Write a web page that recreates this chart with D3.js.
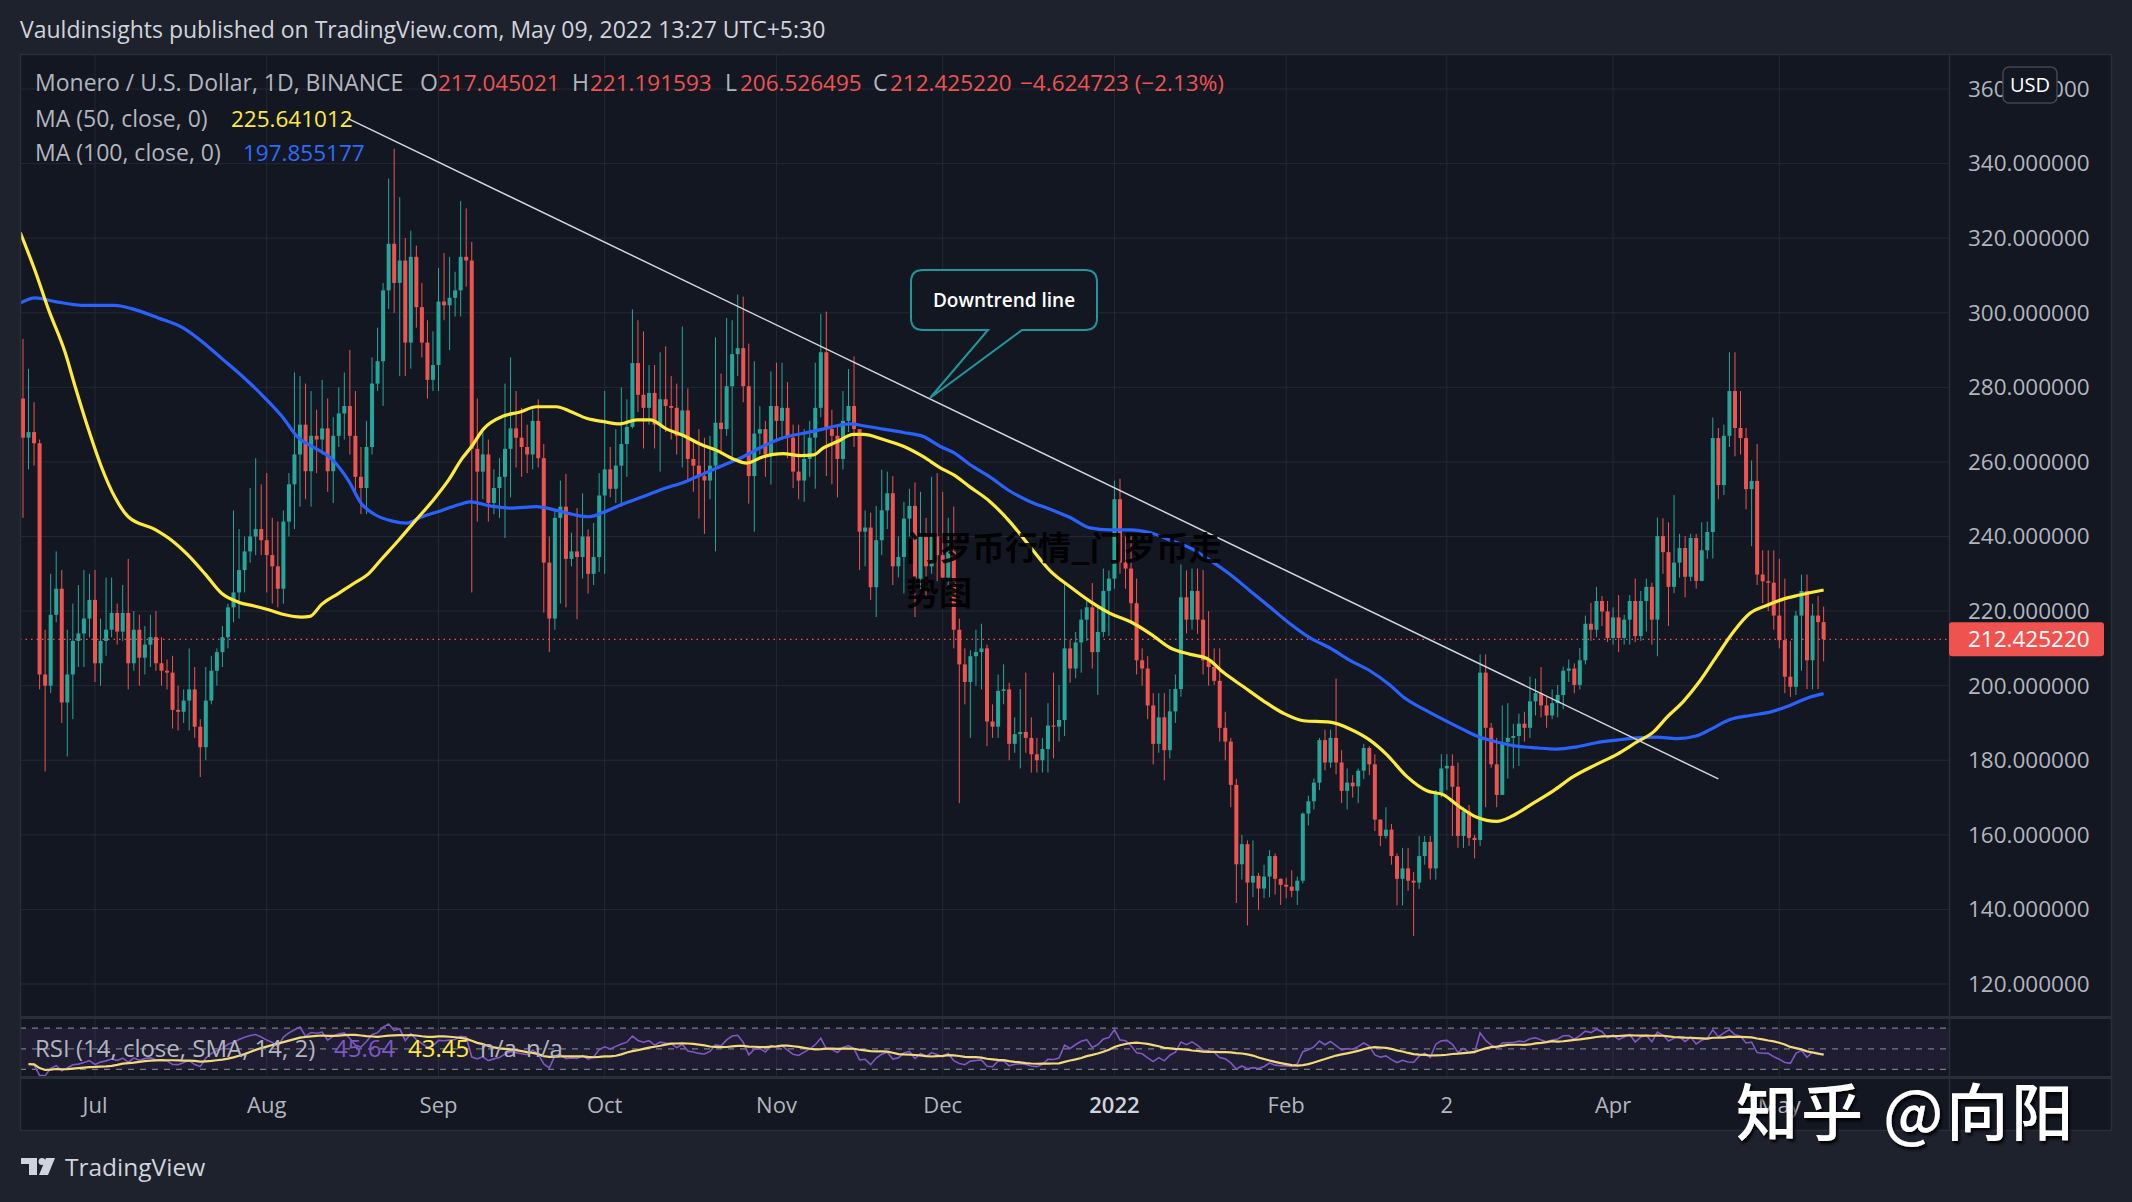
<!DOCTYPE html>
<html>
<head>
<meta charset="utf-8">
<script src="https://cdn.jsdelivr.net/npm/d3@7"></script>
<style>
  body { margin: 0; background: #1e222d; }
</style>
</head>
<body>
<div id="chart"></div>
<script>
// XMR/USD daily candles, Jun 18 2021 .. May 9 2022 (open = previous close)
const firstDay = Date.UTC(2021, 5, 18);
const firstOpen = 277;

const closes = [
  266.5, 268, 265, 203, 200, 219, 226, 195.5, 203, 212,
  214, 218, 223, 206, 212, 215, 219.5, 214.5, 219.5, 206,
  215, 207.5, 211, 213, 206, 204, 203.5, 193.5, 193, 196,
  199, 189, 183.5, 196, 204, 209, 213, 221, 225, 231,
  236, 240, 242, 239, 235, 232, 226, 244, 254, 262,
  270, 257.5, 267, 266, 269, 257.5, 267, 273, 275, 267,
  256, 253, 264, 281, 287, 306, 318.5, 308, 314, 292,
  315, 301.5, 292, 282, 286, 303, 302, 304, 306, 315,
  314, 263.5, 257.4, 262, 249, 253, 256, 263.5, 269, 266.5,
  264, 262, 271, 261, 233, 218, 245, 248, 234, 236,
  234.5, 240, 230, 234.5, 251, 258, 252.8, 259, 264.8, 269.4,
  286.5, 278, 274.5, 278.5, 270, 276.8, 275, 274.5, 267, 273.8,
  260.8, 259, 256.2, 255, 259, 270.5, 268.8, 280.3, 288.9, 290.5,
  280.3, 256.2, 267.6, 268.8, 262, 275, 271, 274.5, 266.5, 257.4,
  255, 260.8, 266.5, 274.5, 289.4, 268.8, 267, 260.8, 271, 275,
  268.8, 241.3, 242.4, 226.4, 239, 247, 251.6, 232, 234.5, 244.8,
  248.2, 228.7, 240, 232, 240, 235, 229, 236, 215, 205.7,
  201, 207.9, 209, 210, 190.4, 189, 198.6, 199, 184.4, 187,
  187.6, 186, 181.6, 180, 183, 189.3, 189, 190.8, 210, 204.6,
  211.6, 217.7, 221, 209, 214.4, 225.4, 228.7, 250, 233, 231.4,
  222.1, 206.8, 204.6, 194.7, 184.4, 191.5, 182.7, 193.1, 199.1, 223.7,
  217.7, 225.4, 217.7, 206.8, 205, 201.3, 188.7, 185, 173.4, 152.1,
  157.5, 147.2, 149, 145.6, 148.8, 154.3, 148.2, 146.6, 146.1, 145,
  147.7, 165.7, 169, 174, 185.4, 179.4, 186, 179.4, 171.8, 174,
  173, 177.2, 183.3, 178.9, 164.1, 159.7, 161.4, 154.3, 148.2, 151,
  147.7, 147.2, 154.3, 158.1, 151, 171.2, 177.8, 178.5, 172.9, 159.7,
  166.3, 159.2, 158.6, 203.5, 188.7, 178.9, 170.7, 184.9, 186, 186.5,
  189.8, 188.7, 195.8, 198, 194.7, 192, 195.3, 197.5, 204, 204.6,
  200.2, 206.8, 216.6, 215, 222.7, 219.9, 212.8, 218.3, 212.8, 217.7,
  222.7, 213.3, 222.7, 226.5, 217.7, 240.1, 235.8, 226.5, 233, 236.9,
  229.2, 239.6, 228.1, 236.3, 241.2, 266.4, 253.8, 267, 279, 269.1,
  266.4, 252.7, 254.9, 229.8, 228, 227.6, 218.8, 212.2, 202.4, 199.7,
  218.8, 225.4, 206.8, 218.8, 217.045, 212.425
];

const highs = [
  293, 285, 276, 266, 215, 230, 236, 231, 215, 222,
  227, 231, 230, 231, 218, 229, 229, 222, 227, 234,
  220, 219, 216, 219, 220, 213, 207, 208, 200, 199,
  210, 205, 191, 205, 208, 210, 216, 222, 247, 242,
  240, 253, 261, 254, 257, 245, 244, 247, 257, 284,
  283, 281, 279, 274, 282, 277, 272, 280, 284, 290,
  279, 264, 271, 288, 296, 308, 336, 344, 331, 320,
  322, 318, 308, 298, 295, 312, 316, 315, 311, 330,
  328, 319, 277, 268, 266, 258, 261, 281, 288, 279,
  274.5, 270, 274, 276.8, 264.8, 240, 247, 255, 256.8, 241,
  247.6, 251.6, 241.9, 243.6, 257, 279, 264, 268.8, 280, 276.8,
  300.9, 298, 295, 286, 286, 289.4, 291, 283, 281, 296.3,
  279.7, 266, 268.8, 266.5, 267, 293.4, 283.7, 298.6, 298, 304.9,
  304.3, 291.7, 287, 275, 271, 284.3, 286.6, 286.6, 281.4, 270,
  270, 268.8, 271, 286.6, 299.7, 300.3, 274, 270, 279, 284.9,
  288.3, 268.8, 247, 246.4, 248.2, 257.9, 257.4, 256.2, 240, 249.3,
  252.8, 254.5, 252, 245, 256, 257, 252, 245, 248, 218,
  210, 209.5, 215, 216.6, 211, 195, 203, 205.7, 200.8, 191.5,
  199.1, 203.5, 191.5, 186, 186, 195.3, 203.5, 200.2, 228, 212.3,
  214.4, 220.5, 223.2, 227.5, 221, 231.4, 230.9, 255, 255.5, 240,
  240.7, 228.7, 210, 207.9, 198, 198, 198, 199.1, 203, 232.5,
  230.9, 231.4, 231.4, 231, 220, 210, 210, 193, 186, 175,
  160, 158.5, 158.5, 149.8, 152, 155.9, 155, 148.3, 148.5, 150.5,
  148.8, 166, 170.5, 175.1, 186, 188.2, 188.2, 201.9, 182.7, 177.8,
  176, 177.8, 184.4, 183.8, 181.6, 164, 167.4, 162.9, 155, 156.5,
  156.5, 150, 159.7, 159.7, 159.7, 172, 181.6, 181.6, 181.6, 179.4,
  167.4, 168, 160, 208.4, 208.4, 190, 186, 194.7, 195.3, 189.8,
  192.5, 193, 202.4, 201.9, 205, 197, 199, 200.2, 205.1, 207,
  206, 210.1, 218.8, 222.2, 226.5, 224, 222.7, 221, 224.3, 219,
  224.3, 228.7, 225.4, 228.7, 227.6, 245.1, 244.9, 243.8, 251.1, 240.7,
  240.1, 240.7, 240.7, 243.8, 244, 271.9, 269.1, 270, 289.4, 289.4,
  279, 269.1, 260.4, 264.8, 236.3, 236.3, 236.3, 234, 228.7, 212,
  220, 229.8, 229.8, 222, 224, 221.19
];

const lows = [
  245, 258, 259, 199, 177, 198, 217, 190, 181, 191,
  205, 205, 213, 201, 200, 208, 213, 211, 212, 199,
  204, 200, 203, 205, 204, 200, 199, 188.5, 188, 190,
  188, 186, 175.5, 180, 195, 200, 205, 210, 217, 218,
  225, 233, 235, 235, 225, 222, 221, 222, 240, 242,
  248, 250, 248, 257, 262, 252, 249, 264, 266, 262,
  251, 246, 246, 262, 279, 275, 301, 300, 283, 283,
  285, 296, 288, 277, 279, 279, 298, 290, 299, 299,
  307, 225, 244, 250, 244, 246, 245, 239.6, 250.5, 258.5,
  256, 257, 258, 258.5, 219.6, 209, 215, 222, 221, 232,
  217.8, 228.7, 224.7, 227, 230.5, 230, 250.5, 249, 248, 256,
  269, 273.4, 263.6, 270, 263.6, 257.4, 268, 266, 262, 258.5,
  255, 252, 244.8, 240.7, 250, 236, 262, 267, 260.8, 283,
  276, 248.8, 241.3, 262, 256, 253.9, 266, 266, 261, 253,
  250, 249.3, 256, 252.8, 272, 256.2, 254, 250.5, 258, 268,
  264, 231, 232, 223, 218.4, 235, 242, 227, 229, 224.7,
  240, 218.4, 226, 224, 230, 228, 226, 227, 210, 168.5,
  195, 186, 200, 199, 183.8, 186, 186, 195, 180, 182,
  177.8, 182, 176.7, 176.7, 176.7, 176.7, 180.5, 185, 186.5, 200.8,
  202, 203.5, 212, 204.6, 197.5, 213, 213.3, 226, 230, 226,
  217, 203, 200, 191, 178.9, 182, 174.6, 180.5, 190, 197,
  214, 215, 213.9, 203, 200, 200.2, 185, 180, 167.4, 141.7,
  148, 135.7, 143.3, 139.9, 143, 143.3, 144, 141.2, 143, 143.3,
  141.2, 147, 162.5, 166.8, 172, 177.3, 178, 176.2, 168.5, 166.8,
  170, 168.5, 175, 176, 161, 157, 159, 152, 141.1, 141.1,
  145, 132.9, 145.5, 152, 148, 148, 170, 172, 159.7, 156.5,
  156.5, 157, 153.7, 157, 167.4, 178, 167.4, 170.7, 175.1, 177.8,
  178.5, 185, 186, 192, 191.5, 188.7, 191, 191.5, 193.7, 201,
  198, 199, 205.7, 212, 213, 216, 211.7, 211, 209, 211,
  211, 211.7, 212, 214.5, 211, 207.9, 230, 216, 224.8, 229,
  223.7, 228, 226, 228, 234, 234.1, 250, 251.1, 264, 261.5,
  262, 247.3, 237.4, 227, 222.1, 220, 215, 210, 198, 197,
  197.5, 204, 199.1, 199, 199.1, 206.53
];

// moving averages (days after Jul 1 2021, value)
const ma50Days = [-13.5, -10.8, -8.4, -5.4, -3.6, -1.2, 1.2, 3.6, 6, 10.8, 13.8, 16.8, 19.9, 22.9, 25.9, 28.9, 31.9, 34.3, 37.3, 38.8, 40.9, 43.9, 46.9, 49.3, 51.7, 54.8, 57.8, 60.8, 63.8, 66.2, 68, 70.1, 73.7, 76.7, 79.7, 83.3, 85.7, 88.7, 91.8, 94.8, 97.8, 100.2, 103.2, 106.2, 109.2, 112.2, 115.2, 117.6, 120.6, 124.2, 127.3, 129.7, 131.4, 133.9, 136.9, 138.7, 142.3, 145.9, 149.5, 152.5, 155, 157.9, 161.5, 165.1, 168.7, 172.4, 176, 179.6, 183.2, 186.8, 190.5, 194.1, 197.7, 200.7, 203.7, 207.3, 211, 214.5, 218.1, 222.9, 226.5, 230.1, 233.1, 236.8, 240.4, 243.4, 246.4, 249.4, 253, 256, 259.6, 263.2, 266.8, 271, 274.7, 278.3, 281.3, 283.7, 286.7, 289.7, 292.7, 295.7, 298.7, 301.7, 304.7, 307.7, 312];
const ma50 = [321.5, 311.2, 300.9, 289.4, 280.3, 268.8, 258.5, 250.5, 245.3, 241.9, 239, 235, 229.9, 224.7, 222.4, 221.3, 220.1, 219, 218.4, 218.6, 221.8, 224.7, 227.6, 229.9, 233.9, 239, 244.2, 249.3, 255.1, 260.8, 264.2, 268.8, 272.3, 273.4, 274.8, 274.8, 273.6, 271.7, 270.8, 270.2, 271.3, 271.3, 268.8, 267.1, 264.8, 263.1, 260.8, 259.7, 261.4, 262.2, 261.7, 261.9, 263.7, 265.4, 267.4, 267.4, 266, 264.2, 261.4, 258.5, 256.5, 253.3, 249.4, 244, 237.4, 230.8, 226.5, 222.6, 219.4, 217.2, 213.9, 210.1, 208.4, 207.3, 203.5, 199.7, 195.8, 192.6, 190.6, 190.2, 188.4, 185.4, 181.6, 175.6, 171.8, 170.7, 167.4, 164.7, 163.6, 165.2, 168.5, 171.8, 175.6, 178.9, 181.6, 184.9, 187.6, 191.5, 195.8, 201.3, 207.9, 214.4, 219.4, 221.5, 223.2, 224.3, 225.64];

const ma100Days = [-13.5, -10.8, -7.2, -2.4, 3.6, 6.6, 11.4, 16.2, 19.3, 22.9, 26.5, 30.1, 33.7, 36.7, 39.7, 42.7, 45.7, 48.1, 50.5, 53.5, 56.3, 59, 62.6, 66.2, 67.7, 71.3, 75, 79.7, 83.3, 86.3, 89, 91.8, 95.4, 99, 102.6, 106.2, 109.8, 113.4, 117, 120.6, 124.2, 127.9, 131.4, 133.9, 136.3, 138.7, 142.3, 145.9, 149.5, 152.5, 155, 157.9, 161.5, 165.1, 168.7, 172.4, 176, 179.6, 183.2, 186.8, 190.5, 194.1, 197.7, 201.3, 204.9, 208.5, 212.1, 215.7, 219.3, 222.9, 226.5, 230.1, 233.7, 236.2, 239.8, 243.4, 247, 249.4, 253, 256.5, 260.2, 263.8, 267.4, 271, 274.7, 278.3, 281.8, 285.5, 289, 291.5, 295.1, 298.7, 302.3, 305.9, 309.5, 312];
const ma100 = [302.6, 304, 303, 302, 302, 301.1, 298.6, 295.7, 292.3, 287.7, 283.1, 278, 272.3, 266.5, 263.7, 260.8, 255.1, 248.8, 245.9, 244.2, 243.6, 245.3, 247, 248.8, 249.3, 248.2, 247.6, 248, 247, 245.9, 245.3, 246.5, 248.8, 250.7, 252.8, 254.5, 256.8, 259.1, 261.4, 264.2, 266.5, 267.7, 268.8, 269.7, 270.2, 269.7, 268.8, 267.9, 266.8, 264.2, 262.5, 259.3, 256, 252.2, 249.4, 247.3, 245.1, 242.3, 241.8, 241.8, 241, 239, 236.9, 233.6, 229.8, 225.4, 221, 216.6, 212.8, 210.1, 206.8, 204, 200.2, 196.9, 193.7, 190.9, 188.2, 186.5, 184.9, 183.8, 183.3, 183, 183.6, 184.7, 185.4, 186, 186.2, 185.8, 186.5, 188.2, 190.9, 192, 192.9, 194.7, 196.9, 197.86];

// downtrend line anchors (days after Jul 1 2021, price)
const trendDays = [45.5, 293];
const trendPrices = [352.2, 175];

const priceTicks = [120, 140, 160, 180, 200, 220, 240, 260, 280, 300, 320, 340, 360];
const timeTickDates = ['2021-07-01', '2021-08-01', '2021-09-01', '2021-10-01', '2021-11-01', '2021-12-01', '2022-01-01', '2022-02-01', '2022-03-02', '2022-04-01', '2022-05-01'];
const timeTickLabels = ['Jul', 'Aug', 'Sep', 'Oct', 'Nov', 'Dec', '2022', 'Feb', '2', 'Apr', 'May'];

const lastPrice = 212.425220;

// ---------------------------------------------------------------
const W = 2132, H = 1202;
const FONT = "'Open Sans', 'Trebuchet MS', Roboto, sans-serif";
const CJK = "'Noto Sans CJK SC', 'Noto Sans CJK JP', sans-serif";
const paneL = 20, paneR = 1949, axisR = 2112;
const paneT = 54, mainB = 1017, rsiT = 1018, rsiB = 1077, timeB = 1131;

const UP = '#26a69a', DOWN = '#ef5350';
const GRID = '#242834', BORDER = '#2a2e39', TXT = '#b2b5be';

const DAY = 864e5;
const jul1 = Date.UTC(2021, 6, 1);
const dates = closes.map((_, i) => new Date(firstDay + i * DAY));
const fromJul = d => new Date(jul1 + d * DAY);

const x = d3.scaleUtc()
    .domain([new Date(jul1), new Date(Date.UTC(2022, 4, 1))])
    .range([95, 1779.3]);
const y = d3.scaleLinear().domain([120, 360]).range([984, 89]);
const yR = d3.scaleLinear().domain([22.6, 79.9]).range([rsiB, rsiT]);

const svg = d3.select('#chart').append('svg')
    .attr('width', W).attr('height', H)
    .style('font-family', FONT);

const defs = svg.append('defs');
defs.append('clipPath').attr('id', 'clipMain')
    .append('rect').attr('x', paneL).attr('y', paneT).attr('width', paneR - paneL).attr('height', mainB - paneT);
defs.append('clipPath').attr('id', 'clipRsi')
    .append('rect').attr('x', paneL).attr('y', rsiT).attr('width', paneR - paneL).attr('height', rsiB - rsiT);
const shadow = defs.append('filter').attr('id', 'shadow').attr('x', '-10%').attr('y', '-20%').attr('width', '130%').attr('height', '150%');
shadow.append('feDropShadow').attr('dx', 2).attr('dy', 3).attr('stdDeviation', 1.5)
    .attr('flood-color', '#000').attr('flood-opacity', 0.9);

// backgrounds
svg.append('rect').attr('width', W).attr('height', H).attr('fill', '#1e222d');
svg.append('rect').attr('x', paneL).attr('y', paneT)
    .attr('width', axisR - paneL).attr('height', timeB - paneT).attr('fill', '#131722');

// header
svg.append('text').attr('x', 20).attr('y', 30).attr('dy', '0.35em')
    .attr('font-size', 23).attr('fill', '#d1d4dc')
    .text('Vauldinsights published on TradingView.com, May 09, 2022 13:27 UTC+5:30');

// grid
const gGrid = svg.append('g');
gGrid.selectAll('line.h').data(priceTicks).join('line')
    .attr('x1', paneL).attr('x2', paneR)
    .attr('y1', d => y(d)).attr('y2', d => y(d))
    .attr('stroke', GRID).attr('stroke-width', 1);
const tickDates = timeTickDates.map(s => new Date(s + 'T00:00:00Z'));
gGrid.selectAll('line.v').data(tickDates).join('line')
    .attr('x1', d => x(d)).attr('x2', d => x(d))
    .attr('y1', paneT).attr('y2', rsiB)
    .attr('stroke', GRID).attr('stroke-width', 1);

// main pane
const gMain = svg.append('g').attr('clip-path', 'url(#clipMain)');

// last price dotted line
gMain.append('line')
    .attr('x1', paneL).attr('x2', paneR)
    .attr('y1', y(lastPrice)).attr('y2', y(lastPrice))
    .attr('stroke', DOWN).attr('stroke-width', 1.2).attr('stroke-dasharray', '1.5,4');

// candles
const candles = closes.map((c, i) => {
    const o = i === 0 ? firstOpen : closes[i - 1];
    return { date: dates[i], o, c, h: Math.max(highs[i], o, c), l: Math.min(lows[i], o, c) };
});
const bw = 4;
const gC = gMain.append('g');
gC.selectAll('line').data(candles).join('line')
    .attr('x1', d => x(d.date)).attr('x2', d => x(d.date))
    .attr('y1', d => y(d.h)).attr('y2', d => y(d.l))
    .attr('stroke', d => d.c >= d.o ? UP : DOWN).attr('stroke-width', 1);
gC.selectAll('rect').data(candles).join('rect')
    .attr('x', d => x(d.date) - bw / 2).attr('width', bw)
    .attr('y', d => y(Math.max(d.o, d.c)))
    .attr('height', d => Math.max(1, Math.abs(y(d.o) - y(d.c))))
    .attr('fill', d => d.c >= d.o ? UP : DOWN);

// moving averages
const line = d3.line().x(d => x(d[0])).y(d => y(d[1])).curve(d3.curveMonotoneX);
gMain.append('path')
    .attr('d', line(ma100Days.map((d, i) => [fromJul(d), ma100[i]])))
    .attr('fill', 'none').attr('stroke', '#2962ff').attr('stroke-width', 3.2);
gMain.append('path')
    .attr('d', line(ma50Days.map((d, i) => [fromJul(d), ma50[i]])))
    .attr('fill', 'none').attr('stroke', '#ffeb3b').attr('stroke-width', 3.2);

// downtrend line
gMain.append('line')
    .attr('x1', x(fromJul(trendDays[0]))).attr('y1', y(trendPrices[0]))
    .attr('x2', x(fromJul(trendDays[1]))).attr('y2', y(trendPrices[1]))
    .attr('stroke', '#d1d4dc').attr('stroke-width', 1.5);

// callout
svg.append('path')
    .attr('d', 'M923,270 H1085 Q1097,270 1097,282 V318 Q1097,330 1085,330 H1022 L930,398 L988,330 H923 Q911,330 911,318 V282 Q911,270 923,270 Z')
    .attr('fill', '#131722').attr('stroke', '#22969c').attr('stroke-width', 2);
svg.append('text').attr('x', 1004).attr('y', 300).attr('dy', '0.35em')
    .attr('text-anchor', 'middle').attr('font-size', 19).attr('font-weight', 600)
    .attr('fill', '#ffffff').text('Downtrend line');

// centre watermark
const wm = svg.append('g').attr('font-family', CJK).attr('font-size', 33)
    .attr('font-weight', 700).attr('fill', '#000').attr('fill-opacity', 0.9);
wm.append('text').attr('x', 906).attr('y', 560).text('门罗币行情_门罗币走');
wm.append('text').attr('x', 906).attr('y', 605).text('势图');

// legend
const leg = svg.append('g');
function piece(xp, yp, txt, col, fs = 23) {
    leg.append('text').attr('x', xp).attr('y', yp).attr('dy', '0.35em')
        .attr('font-size', fs).attr('fill', col).text(txt);
}
piece(35, 83, 'Monero / U.S. Dollar, 1D, BINANCE', TXT);
piece(420, 83, 'O', TXT); piece(438, 83, '217.045021', DOWN, 22.5);
piece(572, 83, 'H', TXT); piece(590, 83, '221.191593', DOWN, 22.5);
piece(725, 83, 'L', TXT); piece(740, 83, '206.526495', DOWN, 22.5);
piece(873, 83, 'C', TXT); piece(890, 83, '212.425220', DOWN, 22.5);
piece(1020, 83, '−4.624723 (−2.13%)', DOWN, 22.5);
piece(35, 119, 'MA (50, close, 0)', TXT); piece(231, 119, '225.641012', '#ffeb3b', 22.5);
piece(35, 153, 'MA (100, close, 0)', TXT); piece(243, 153, '197.855177', '#2f6bff', 22.5);

// RSI pane
const changes = closes.slice(1).map((c, i) => c - closes[i]);
let avgG = d3.mean(changes.slice(0, 14), c => Math.max(c, 0));
let avgL = d3.mean(changes.slice(0, 14), c => Math.max(-c, 0));
const rsi = [];
changes.forEach((ch, i) => {
    avgG = (avgG * 13 + Math.max(ch, 0)) / 14;
    avgL = (avgL * 13 + Math.max(-ch, 0)) / 14;
    rsi.push({ date: dates[i + 1], v: 100 - 100 / (1 + avgG / avgL) });
});
const rsiMa = rsi.map((d, i) => ({ date: d.date, v: d3.mean(rsi.slice(Math.max(0, i - 13), i + 1), r => r.v) }));

const gR = svg.append('g').attr('clip-path', 'url(#clipRsi)');
gR.append('rect').attr('x', paneL).attr('width', paneR - paneL)
    .attr('y', yR(70)).attr('height', yR(30) - yR(70))
    .attr('fill', '#7e57c2').attr('fill-opacity', 0.1);
gR.selectAll('line.lvl').data([70, 50, 30]).join('line')
    .attr('x1', paneL).attr('x2', paneR)
    .attr('y1', d => yR(d)).attr('y2', d => yR(d))
    .attr('stroke', '#787b86').attr('stroke-width', 1.2).attr('stroke-dasharray', '6,6');
const rLine = d3.line().x(d => x(d.date)).y(d => yR(d.v));
gR.append('path').attr('d', rLine(rsi))
    .attr('fill', 'none').attr('stroke', '#7e57c2').attr('stroke-width', 1.6);
gR.append('path').attr('d', rLine(rsiMa))
    .attr('fill', 'none').attr('stroke', '#f3d97a').attr('stroke-width', 2.2);

const rl = svg.append('g').attr('font-size', 24);
[['RSI (14, close, SMA, 14, 2)', 35, TXT], ['45.64', 334, '#7e57c2'], ['43.45', 408, '#ffeb3b'],
 ['n/a', 480, TXT], ['n/a', 526, TXT]].forEach(([t, xp, col]) => {
    rl.append('text').attr('x', xp).attr('y', 1049).attr('dy', '0.35em').attr('fill', col).text(t);
});

// pane borders
const gB = svg.append('g').attr('stroke', BORDER).attr('fill', 'none');
gB.append('rect').attr('x', paneL + 0.5).attr('y', paneT + 0.5)
    .attr('width', axisR - paneL - 1).attr('height', timeB - paneT - 1).attr('stroke-width', 1.5);
gB.append('line').attr('x1', paneL).attr('x2', axisR).attr('y1', mainB + 0.5).attr('y2', mainB + 0.5).attr('stroke-width', 3);
gB.append('line').attr('x1', paneL).attr('x2', axisR).attr('y1', rsiB + 0.5).attr('y2', rsiB + 0.5).attr('stroke-width', 3);
gB.append('line').attr('x1', paneR + 0.5).attr('x2', paneR + 0.5).attr('y1', paneT).attr('y2', timeB).attr('stroke-width', 1.5);

// price axis
const fmt = d3.format('.6f');
svg.append('g').selectAll('text').data(priceTicks).join('text')
    .attr('x', 1968).attr('y', d => y(d)).attr('dy', '0.35em')
    .attr('font-size', 22.5).attr('fill', TXT).text(d => fmt(d));

svg.append('rect').attr('x', 1949).attr('y', y(lastPrice) - 17).attr('width', 155).attr('height', 34)
    .attr('rx', 3).attr('fill', DOWN);
svg.append('text').attr('x', 1968).attr('y', y(lastPrice)).attr('dy', '0.35em')
    .attr('font-size', 22.5).attr('fill', '#fff').text(fmt(lastPrice));

svg.append('rect').attr('x', 2003).attr('y', 67).attr('width', 54).attr('height', 36).attr('rx', 6)
    .attr('fill', '#131722').attr('stroke', '#434651').attr('stroke-width', 1.5);
svg.append('text').attr('x', 2030).attr('y', 85).attr('dy', '0.35em').attr('text-anchor', 'middle')
    .attr('font-size', 20).attr('fill', '#fff').text('USD');

// time axis
svg.append('g').selectAll('text').data(tickDates).join('text')
    .attr('x', d => x(d)).attr('y', 1105).attr('dy', '0.35em').attr('text-anchor', 'middle')
    .attr('font-size', 22)
    .attr('font-weight', (d, i) => timeTickLabels[i] === '2022' ? 600 : 400)
    .attr('fill', (d, i) => timeTickLabels[i] === '2022' ? '#d1d4dc' : TXT)
    .text((d, i) => timeTickLabels[i]);

// TradingView logo
const logo = svg.append('g').attr('fill', '#d1d4dc');
logo.append('path').attr('d', 'M21,1158 H37 V1175 H29 V1164 H21 Z');
logo.append('circle').attr('cx', 42).attr('cy', 1161.5).attr('r', 3.5);
logo.append('path').attr('d', 'M46,1158 H55 L48,1175 H39 Z');
logo.append('text').attr('x', 65).attr('y', 1167).attr('dy', '0.35em')
    .attr('font-size', 24.5).attr('fill', '#d1d4dc').text('TradingView');

// bottom-right watermark
svg.append('text').attr('x', 1736).attr('y', 1136)
    .attr('font-family', CJK).attr('font-size', 62).attr('font-weight', 500)
    .attr('letter-spacing', 3)
    .attr('fill', '#fff').attr('filter', 'url(#shadow)')
    .text('知乎 @向阳');
</script>
</body>
</html>
